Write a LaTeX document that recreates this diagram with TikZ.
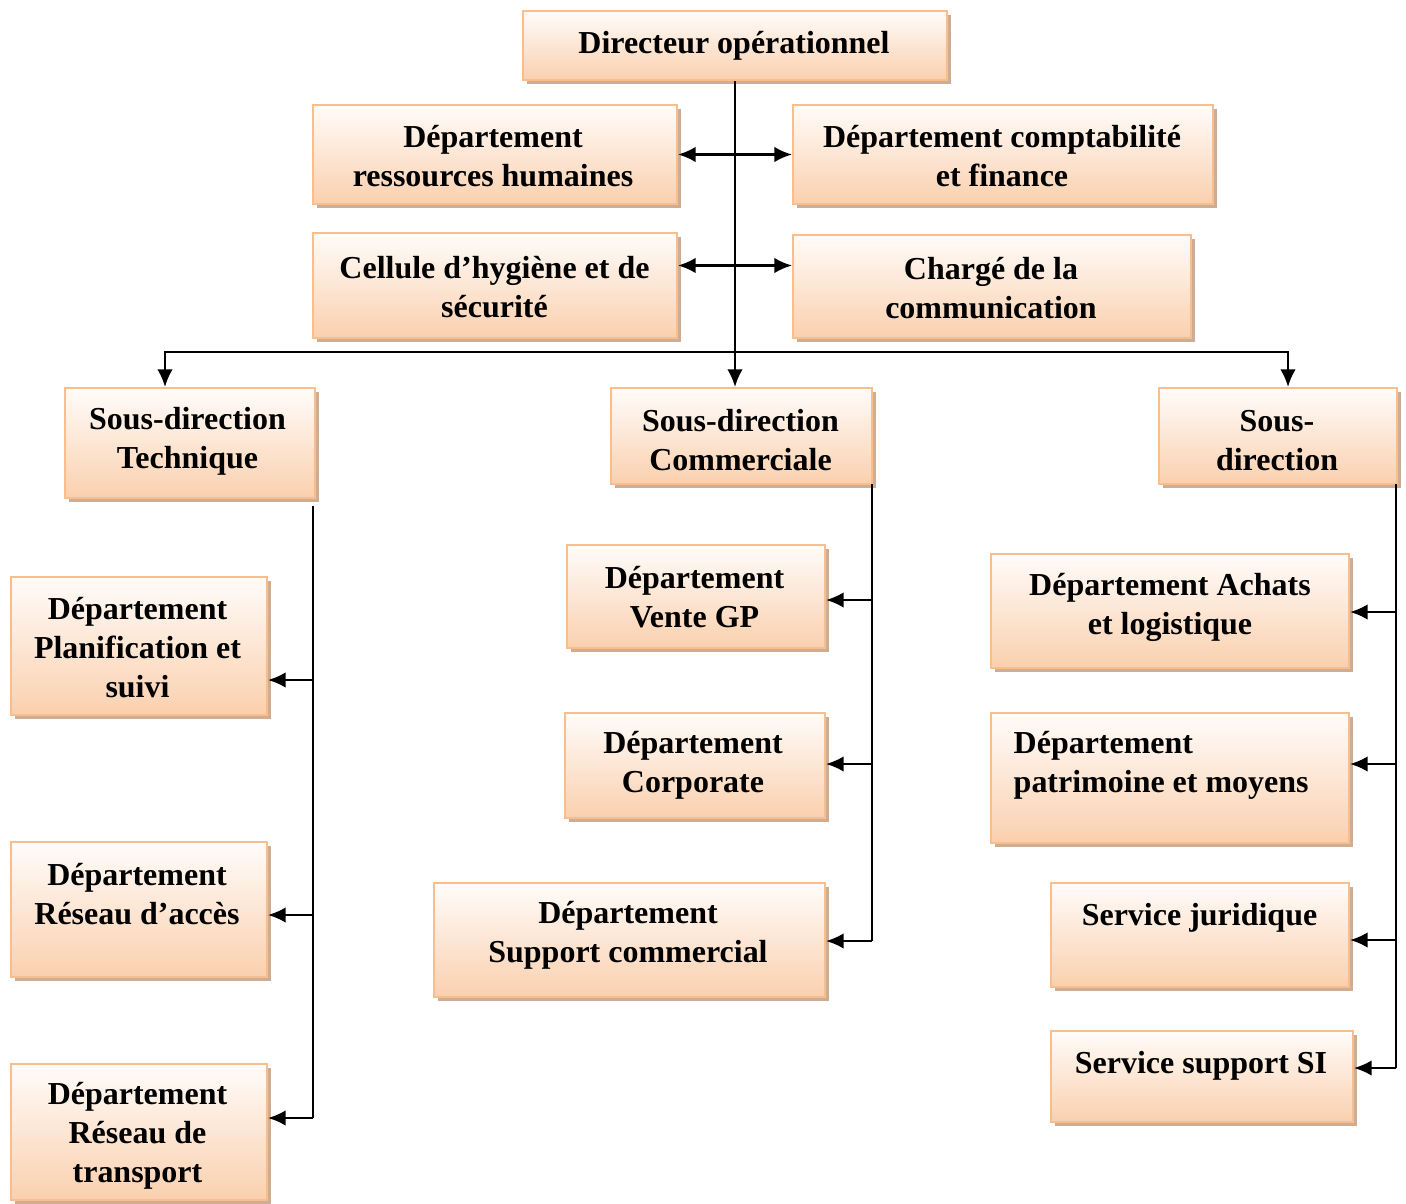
\documentclass[tikz,border=0pt]{standalone}
\usepackage{fontspec}
\setmainfont{Liberation Serif}
\usetikzlibrary{shapes,arrows.meta,shadows}

\definecolor{boxtop}{HTML}{FFFCFA}
\definecolor{boxbot}{HTML}{FAD0AE}
\definecolor{boxline}{HTML}{F9BE8C}
\definecolor{boxshadow}{HTML}{CDAE94}

\begin{document}
\begin{tikzpicture}[font=\bfseries\fontsize{9.1}{11.1}\selectfont, >={Latex[length=5pt,width=4.4pt]}]
\tikzstyle{boxr}=[rectangle, draw=boxline, line width=0.6pt, top color=boxtop, bottom color=boxbot, drop shadow={shadow xshift=0.04cm, shadow yshift=-0.04cm, fill=boxshadow, opacity=1}, inner sep=0pt]
\tikzstyle{textr}=[align=center, inner sep=0pt, yshift=-0.03cm]
\tikzstyle{drawstyle}=[line width=0.6pt]
\useasboundingbox (0,0) rectangle (14.06,-12.04);

% direction and staff
\node[boxr, minimum width=4.24cm, minimum height=0.69cm] (G0x0) at (7.35,-0.455) {};
\node[textr] (G0x0t) at (7.34,-0.43) {Directeur opérationnel};
\node[boxr, minimum width=3.64cm, minimum height=0.99cm] (G1x0) at (4.95,-1.545) {};
\node[textr] (G1x0t) at (4.93,-1.535) {Département\\ressources humaines};
\node[boxr, minimum width=4.20cm, minimum height=0.99cm] (G1x1) at (10.03,-1.545) {};
\node[textr] (G1x1t) at (10.02,-1.535) {Département comptabilité\\et finance};
\node[boxr, minimum width=3.64cm, minimum height=1.05cm] (G2x0) at (4.95,-2.855) {};
\node[textr] (G2x0t) at (4.945,-2.84) {Cellule d’hygiène et de\\sécurité};
\node[boxr, minimum width=3.98cm, minimum height=1.03cm] (G2x1) at (9.92,-2.865) {};
\node[textr] (G2x1t) at (9.91,-2.855) {Chargé de la\\communication};

% sous-directions
\node[boxr, minimum width=2.50cm, minimum height=1.10cm] (G3x0) at (1.90,-4.43) {};
\node[textr] (G3x0t) at (1.875,-4.385) {Sous-direction\\Technique};
\node[boxr, minimum width=2.61cm, minimum height=0.96cm] (G3x1) at (7.415,-4.36) {};
\node[textr] (G3x1t) at (7.405,-4.375) {Sous-direction\\Commerciale};
\node[boxr, minimum width=2.38cm, minimum height=0.96cm] (G3x2) at (12.78,-4.36) {};
\node[textr] (G3x2t) at (12.77,-4.38) {Sous-\\direction};

% departements
\node[boxr, minimum width=2.56cm, minimum height=1.38cm] (G4x0) at (1.39,-6.46) {};
\node[textr] (G4x0t) at (1.375,-6.445) {Département\\Planification et\\suivi};
\node[boxr, minimum width=2.56cm, minimum height=1.35cm] (G5x0) at (1.39,-9.095) {};
\node[textr] (G5x0t) at (1.37,-8.91) {Département\\Réseau d’accès};
\node[boxr, minimum width=2.56cm, minimum height=1.36cm] (G6x0) at (1.39,-11.32) {};
\node[textr] (G6x0t) at (1.375,-11.325) {Département\\Réseau de\\transport};
\node[boxr, minimum width=2.58cm, minimum height=1.03cm] (G4x1) at (6.96,-5.965) {};
\node[textr] (G4x1t) at (6.945,-5.94) {Département\\Vente GP};
\node[boxr, minimum width=2.60cm, minimum height=1.05cm] (G5x1) at (6.95,-7.655) {};
\node[textr] (G5x1t) at (6.93,-7.62) {Département\\Corporate};
\node[boxr, minimum width=3.91cm, minimum height=1.14cm] (G6x1) at (6.295,-9.40) {};
\node[textr] (G6x1t) at (6.28,-9.325) {Département\\Support commercial};
\node[boxr, minimum width=3.58cm, minimum height=1.14cm] (G4x2) at (11.70,-6.11) {};
\node[textr] (G4x2t) at (11.70,-6.045) {Département Achats\\et logistique};
\node[boxr, minimum width=3.58cm, minimum height=1.30cm] (G5x2) at (11.70,-7.78) {};
\node[textr, align=left, anchor=west] (G5x2t) at (10.13,-7.62) {Département\\patrimoine et moyens};
\node[boxr, minimum width=2.98cm, minimum height=1.04cm] (G6x2) at (12.00,-9.35) {};
\node[textr] (G6x2t) at (11.995,-9.15) {Service juridique};
\node[boxr, minimum width=3.02cm, minimum height=0.91cm] (G7x2) at (12.02,-10.765) {};
\node[textr] (G7x2t) at (12.01,-10.63) {Service support SI};

% connectors
\coordinate (Bus) at (7.35,-3.52);
\draw[drawstyle,->] (G0x0.south) -- (G0x0.south |- G3x1.north);
\draw[drawstyle,<->] (G1x0.east) -- (G1x0.east -| G1x1.west);
\draw[drawstyle,<->] ([yshift=0.2cm]G2x0.east) -- ([yshift=0.2cm]G2x0.east -| G2x1.west);
\draw[drawstyle,->] (Bus) -| ([xshift=-0.25cm]G3x0.north);
\draw[drawstyle,->] (Bus) -| ([xshift=0.10cm]G3x2.north);

\coordinate (T0) at (3.13,-5.06);
\coordinate (T1) at (3.13,-6.80);
\coordinate (T2) at (3.13,-9.15);
\coordinate (T3) at (3.13,-11.18);
\draw[drawstyle] (T0) -- (T3);
\draw[drawstyle,->] (T1) -- (T1 -| G4x0.east);
\draw[drawstyle,->] (T2) -- (T2 -| G5x0.east);
\draw[drawstyle,->] (T3) -- (T3 -| G6x0.east);

\coordinate (C0) at (8.72,-4.84);
\coordinate (C1) at (8.72,-6.00);
\coordinate (C2) at (8.72,-7.64);
\coordinate (C3) at (8.72,-9.41);
\draw[drawstyle] (C0) -- (C3);
\draw[drawstyle,->] (C1) -- (C1 -| G4x1.east);
\draw[drawstyle,->] (C2) -- (C2 -| G5x1.east);
\draw[drawstyle,->] (C3) -- (C3 -| G6x1.east);

\coordinate (S0) at (13.96,-4.84);
\coordinate (S1) at (13.96,-6.12);
\coordinate (S2) at (13.96,-7.64);
\coordinate (S3) at (13.96,-9.40);
\coordinate (S4) at (13.96,-10.68);
\draw[drawstyle] (S0) -- (S4);
\draw[drawstyle,->] (S1) -- (S1 -| G4x2.east);
\draw[drawstyle,->] (S2) -- (S2 -| G5x2.east);
\draw[drawstyle,->] (S3) -- (S3 -| G6x2.east);
\draw[drawstyle,->] (S4) -- (S4 -| G7x2.east);
\end{tikzpicture}
\end{document}
